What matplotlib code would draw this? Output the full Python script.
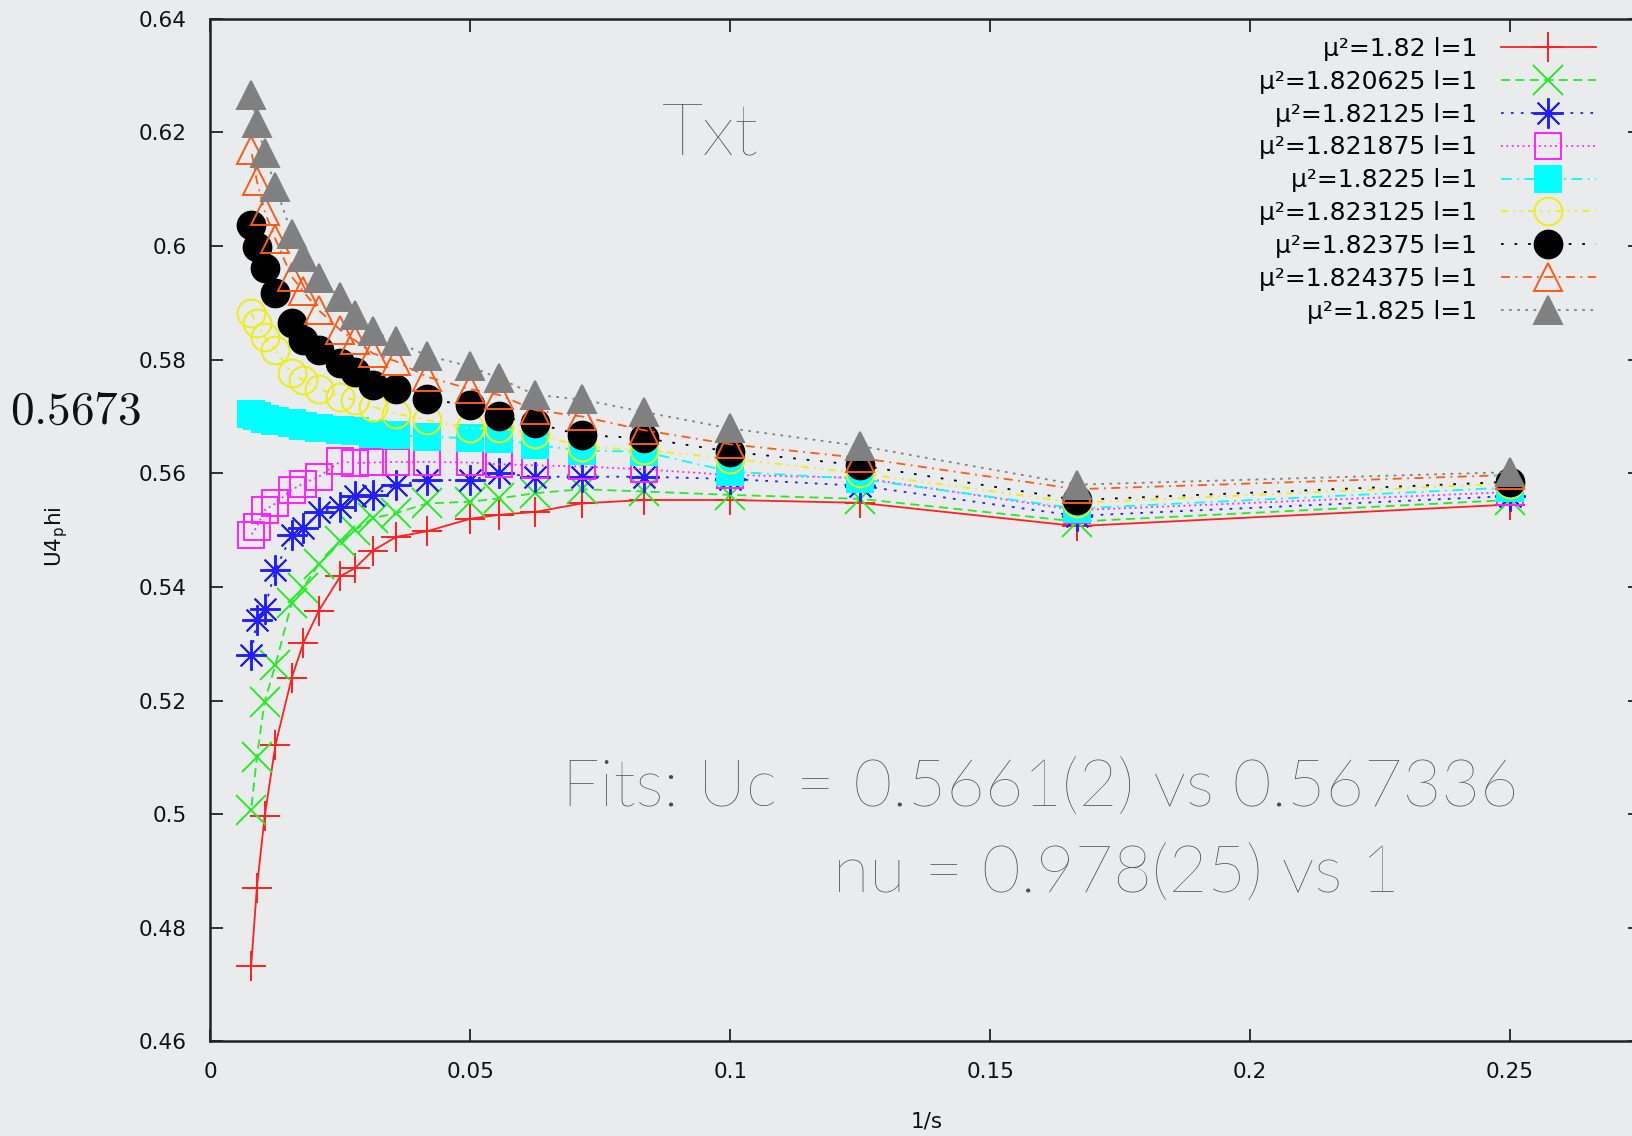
import numpy as np
import matplotlib
matplotlib.use("Agg")
import matplotlib.pyplot as plt

plt.rcParams['font.family'] = ['DejaVu Sans']
plt.rcParams['mathtext.fontset'] = 'cm'

s_vals = [4, 6, 8, 10, 12, 14, 16, 18, 20, 24, 28, 32, 36, 40, 48, 56, 64, 80, 96, 112, 128]

labels = ["μ²=1.82 l=1", "μ²=1.820625 l=1", "μ²=1.82125 l=1", "μ²=1.821875 l=1",
          "μ²=1.8225 l=1", "μ²=1.823125 l=1", "μ²=1.82375 l=1", "μ²=1.824375 l=1",
          "μ²=1.825 l=1"]

u_182 = [0.5545, 0.5507, 0.5548, 0.5553, 0.5553, 0.5547, 0.5532, 0.5527, 0.5520, 0.5498, 0.5488,
         0.5464, 0.5433, 0.5419, 0.5358, 0.5301, 0.5240, 0.5122, 0.4996, 0.4871, 0.4732]
u_1820625 = [0.5553, 0.5515, 0.5555, 0.5562, 0.5568, 0.5572, 0.5565, 0.5556, 0.5550, 0.5547, 0.5530,
             0.5521, 0.5500, 0.5480, 0.5440, 0.5399, 0.5372, 0.5263, 0.5198, 0.5101, 0.5007]
u_182125 = [0.5560, 0.5525, 0.5578, 0.5590, 0.5594, 0.5594, 0.5594, 0.5600, 0.5588, 0.5588, 0.5579,
            0.5562, 0.5560, 0.5541, 0.5532, 0.5503, 0.5492, 0.5430, 0.5362, 0.5342, 0.5280]
u_1821875 = [0.5567, 0.5535, 0.5592, 0.5597, 0.5607, 0.5612, 0.5614, 0.5616, 0.5619, 0.5620, 0.5620,
             0.5619, 0.5618, 0.5621, 0.5594, 0.5582, 0.5571, 0.5547, 0.5535, 0.5506, 0.5491]
u_18225 = [0.5575, 0.5538, 0.5590, 0.5603, 0.5638, 0.5640, 0.5650, 0.5660, 0.5662, 0.5664, 0.5667,
           0.5670, 0.5674, 0.5676, 0.5680, 0.5684, 0.5688, 0.5692, 0.5696, 0.5700, 0.5704]
u_1823125 = [0.5582, 0.5548, 0.5600, 0.5626, 0.5641, 0.5647, 0.5670, 0.5679, 0.5679, 0.5694, 0.5705,
             0.5717, 0.5729, 0.5735, 0.5749, 0.5764, 0.5776, 0.5817, 0.5840, 0.5864, 0.5882]
u_182375 = [0.5585, 0.5553, 0.5614, 0.5638, 0.5662, 0.5667, 0.5688, 0.5700, 0.5720, 0.5730, 0.5748,
            0.5755, 0.5779, 0.5794, 0.5817, 0.5835, 0.5864, 0.5917, 0.5961, 0.5999, 0.6037]
u_1824375 = [0.5597, 0.5572, 0.5627, 0.5651, 0.5676, 0.5700, 0.5711, 0.5738, 0.5748, 0.5770, 0.5797,
             0.5811, 0.5834, 0.5852, 0.5887, 0.5920, 0.5946, 0.6012, 0.6061, 0.6114, 0.6169]
u_1825 = [0.5602, 0.5580, 0.5648, 0.5679, 0.5708, 0.5730, 0.5738, 0.5767, 0.5788, 0.5807, 0.5832,
          0.5850, 0.5879, 0.5911, 0.5943, 0.5981, 0.6022, 0.6104, 0.6163, 0.6216, 0.6266]

series = [u_182, u_1820625, u_182125, u_1821875, u_18225, u_1823125, u_182375, u_1824375, u_1825]

# colour, marker, size, filled, dash pattern
styles = [
    ("#ff2020", "+", 21, True, "-"),
    ("#22ee22", "x", 21, True, (0, (5, 3))),
    ("#2020ff", (8, 2, 0), 22, True, (0, (1.5, 4))),
    ("#ff22ff", "s", 19, False, (0, (1, 2))),
    ("#00ffff", "s", 19, True, (0, (6, 3, 1, 3))),
    ("#eeee10", "o", 20, False, (0, (4, 3, 1, 3, 1, 3))),
    ("#000000", "o", 20, True, (0, (1.5, 6))),
    ("#ff5a14", "^", 20, False, (0, (5, 3, 1, 3))),
    ("#808080", "^", 20, True, (0, (1.5, 3))),
]

bg = "#e9ebed"
fig = plt.figure(figsize=(16.33, 11.36), dpi=100, facecolor=bg)
ax = fig.add_axes([0.1289, 0.0832, 0.8754, 0.9003])
ax.set_facecolor(bg)

x = 1.0 / np.array(s_vals)
for y, lab, (c, m, ms, filled, ls) in zip(series, labels, styles):
    ax.plot(x, y, color=c, linestyle=ls, linewidth=1.3, marker=m, markersize=ms,
            markeredgewidth=1.4, markerfacecolor=c if filled else "none",
            markeredgecolor=c, label=lab)

ax.set_xlim(0, 0.275)
ax.set_ylim(0.46, 0.64)
ax.set_xticks([0, 0.05, 0.1, 0.15, 0.2, 0.25])
ax.set_xticklabels(["0", "0.05", "0.1", "0.15", "0.2", "0.25"])
ax.set_yticks(np.arange(0.46, 0.6401, 0.02))
ax.set_yticklabels(["0.46", "0.48", "0.5", "0.52", "0.54", "0.56", "0.58", "0.6", "0.62", "0.64"])
ax.tick_params(direction="in", length=9, width=1.3, top=True, right=True,
               labelsize=15.5, color="#222222", labelcolor="#111111")
ax.tick_params(axis="x", pad=15)
ax.tick_params(axis="y", pad=17)
for sp in ax.spines.values():
    sp.set_linewidth(1.8)
    sp.set_color("#222222")

ax.set_xlabel("1/s", fontsize=15.5, color="#111111")
ax.set_ylabel(r"U4$_\mathregular{p}$hi", fontsize=15.5, color="#111111")
ax.xaxis.set_label_coords(0.501, -0.068)
ax.yaxis.set_label_coords(-0.098, 0.494)

leg = ax.legend(loc="upper right", bbox_to_anchor=(0.988, 0.983), bbox_transform=fig.transFigure,
                frameon=False, markerfirst=False, numpoints=1, fontsize=18, handlelength=3.8,
                handletextpad=0.95, labelspacing=0.355, borderpad=0.2)

fig.text(0.0064, 0.638, r"$0.5673$", fontsize=34, va="center", ha="left", color="#111111")

light = dict(family=["Lato", "DejaVu Sans"], fontweight="light", color="#4c4c4c")
fig.text(0.435, 0.881, "Txt", fontsize=52, va="center", ha="center", **light)
fig.text(0.344, 0.306, "Fits: Uc = 0.5661(2) vs 0.567336", fontsize=48, va="center",
         ha="left", **light)
fig.text(0.510, 0.230, "nu = 0.978(25) vs 1", fontsize=48, va="center", ha="left", **light)

fig.savefig("out.png", dpi=100, facecolor=bg)
